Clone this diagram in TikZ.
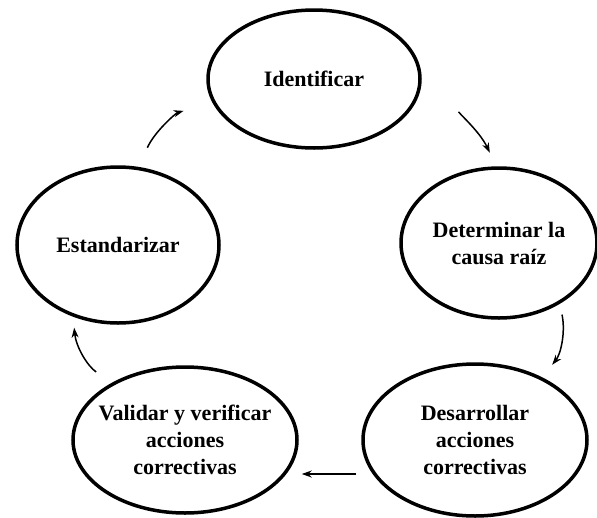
\documentclass[tikz,border=0pt]{standalone}
\usepackage{fontspec}
\setmainfont{Liberation Serif}
\usetikzlibrary{shapes.geometric,arrows.meta}
\begin{document}
\begin{tikzpicture}[x=1pt, y=-1pt,
  etapa/.style={draw, ellipse, line width=3.5pt, inner sep=-40pt, align=center,
    font=\bfseries\fontsize{22}{27}\selectfont},
  flecha/.style={line width=1.5pt, -{Stealth[length=10pt,width=7pt]}}]
  \useasboundingbox (0,0) rectangle (597,517);
  \node[etapa, minimum width=212pt, minimum height=138pt] (id) at (314,79) {Identificar};
  \node[etapa, minimum width=196pt, minimum height=150pt] (dc) at (499,243) {Determinar la\\causa raíz};
  \node[etapa, minimum width=224pt, minimum height=152pt] (dv) at (475,440) {Desarrollar\\acciones\\correctivas};
  \node[etapa, minimum width=224pt, minimum height=146pt] (vv) at (185,440) {Validar y verificar\\acciones\\correctivas};
  \node[etapa, minimum width=202pt, minimum height=156pt] (es) at (118,245) {Estandarizar};
  % ciclo
  \draw[flecha, shorten <=44pt, shorten >=15pt] (id.-12) to[bend left=25] (dc.92);
  \draw[flecha, shorten <=11pt, shorten >=16pt] (dc.-45) to[bend left=25] (dv.43);
  \draw[flecha, shorten <=5pt, shorten >=3pt] ([yshift=-34pt]dv.west) -- ([yshift=-34pt]vv.east);
  \draw[flecha, shorten <=19pt, shorten >=11pt] (vv.142) to[bend left=25] (es.-122);
  \draw[flecha, shorten <=21pt, shorten >=30pt] (es.75) to[bend left=25] (id.-167);
\end{tikzpicture}
\end{document}
